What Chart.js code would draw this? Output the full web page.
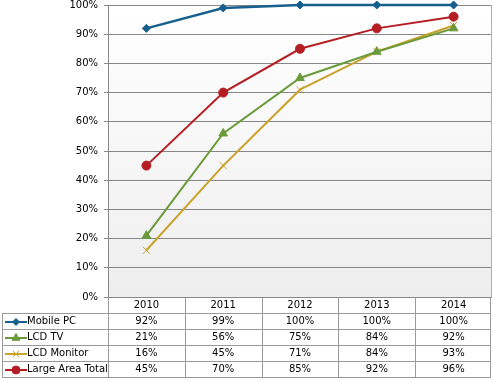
<!DOCTYPE html>
<html>
<head>
<meta charset="utf-8">
<script src="https://cdn.jsdelivr.net/npm/chart.js@4/dist/chart.umd.min.js"></script>
<style>
html,body{margin:0;padding:0;background:#fff;}
#wrap{width:493px;height:382px;position:relative;}
</style>
</head>
<body>
<div id="wrap"><canvas id="c" width="493" height="382"></canvas></div>
<script>
const categories = ['2010', '2011', '2012', '2013', '2014'];
const seriesNames = ['Mobile PC', 'LCD TV', 'LCD Monitor', 'Large Area Total'];
const mobilePC = [92, 99, 100, 100, 100];
const lcdTV = [21, 56, 75, 84, 92];
const lcdMonitor = [16, 45, 71, 84, 93];
const largeAreaTotal = [45, 70, 85, 92, 96];
const yTickValues = [0, 10, 20, 30, 40, 50, 60, 70, 80, 90, 100];

const FONT = '"DejaVu Sans", sans-serif';
const FSIZE = 10;
const GRID = '#878787';
const TABLE_LINE = '#9a9a9a';

const styles = [
  {color: '#17608e', pointStyle: 'rectRot', radius: 4, width: 2.5},
  {color: '#6a9a39', pointStyle: 'triangle', radius: 5, width: 2},
  {color: '#c9a22a', pointStyle: 'crossRot', radius: 5, width: 2},
  {color: '#b51d23', pointStyle: 'circle', radius: 4.5, width: 2}
];
const seriesData = [mobilePC, lcdTV, lcdMonitor, largeAreaTotal];

const datasets = seriesData.map((d, i) => ({
  label: seriesNames[i],
  data: d,
  borderColor: styles[i].color,
  backgroundColor: styles[i].color,
  pointBackgroundColor: styles[i].color,
  pointBorderColor: styles[i].color,
  pointStyle: styles[i].pointStyle,
  pointRadius: styles[i].radius,
  pointBorderWidth: 1,
  borderWidth: styles[i].width,
  tension: 0,
  fill: false,
  clip: 8,
  order: i
}));

const tablePlugin = {
  id: 'tablePlugin',
  beforeDraw(chart) {
    const {ctx, chartArea: a} = chart;
    const g = ctx.createLinearGradient(0, a.top, 0, a.bottom);
    g.addColorStop(0, '#ffffff');
    g.addColorStop(1, '#eeeeee');
    ctx.save();
    ctx.fillStyle = g;
    ctx.fillRect(a.left, a.top, a.right - a.left, a.bottom - a.top);
    ctx.restore();
  },
  afterDraw(chart) {
    const {ctx, chartArea: a} = chart;
    const n = categories.length;
    const band = (a.right - a.left) / n;
    const px = v => Math.round(v) + 0.5;
    ctx.save();
    ctx.strokeStyle = '#b0b0b0';
    ctx.lineWidth = 1;
    ctx.beginPath();
    ctx.moveTo(px(a.right) - 1, a.top);
    ctx.lineTo(px(a.right) - 1, a.bottom);
    ctx.stroke();

    const headerTop = a.bottom;
    const rowH = 16;
    const bodyTop = headerTop + 16;
    const tableLeft = 2;
    const tableRight = a.right - 1;
    ctx.strokeStyle = TABLE_LINE;
    ctx.beginPath();
    for (let r = 0; r <= seriesNames.length; r++) {
      const y = px(bodyTop + r * rowH);
      ctx.moveTo(tableLeft, y);
      ctx.lineTo(tableRight, y);
    }
    for (let k = 0; k <= n; k++) {
      let x = px(a.left + k * band);
      if (k === n) x = px(tableRight) - 1;
      ctx.moveTo(x, headerTop);
      ctx.lineTo(x, bodyTop + seriesNames.length * rowH);
    }
    ctx.moveTo(px(tableLeft), bodyTop);
    ctx.lineTo(px(tableLeft), bodyTop + seriesNames.length * rowH);
    ctx.stroke();

    ctx.fillStyle = '#000';
    ctx.font = FSIZE + 'px ' + FONT;
    ctx.textBaseline = 'middle';
    ctx.textAlign = 'center';
    const xs = chart.scales.x;
    categories.forEach((c, i) => {
      ctx.fillText(c, xs.getPixelForValue(i), headerTop + 8.5);
    });
    seriesData.forEach((d, r) => {
      const yc = bodyTop + r * rowH + 8.5;
      d.forEach((v, i) => {
        ctx.fillText(Math.round(v) + '%', xs.getPixelForValue(i), yc);
      });
    });
    ctx.textAlign = 'left';
    seriesNames.forEach((name, r) => {
      const yc = bodyTop + r * rowH + 8.5;
      const st = styles[r];
      ctx.strokeStyle = st.color;
      ctx.fillStyle = st.color;
      ctx.lineWidth = 2;
      ctx.beginPath();
      ctx.moveTo(5, Math.round(yc));
      ctx.lineTo(27, Math.round(yc));
      ctx.stroke();
      ctx.lineWidth = 1;
      Chart.helpers.drawPoint(ctx, {pointStyle: st.pointStyle, radius: st.radius - 0.5, rotation: 0, borderWidth: 1}, 16, Math.round(yc));
      ctx.fillStyle = '#000';
      ctx.fillText(name, 27, yc);
    });
    ctx.restore();
  }
};

new Chart(document.getElementById('c'), {
  type: 'line',
  data: {labels: categories, datasets},
  plugins: [tablePlugin],
  options: {
    responsive: false,
    animation: false,
    devicePixelRatio: 1,
    layout: {autoPadding: false, padding: {left: 0, right: 1, top: 5, bottom: 85}},
    plugins: {legend: {display: false}, tooltip: {enabled: false}},
    scales: {
      x: {
        type: 'category',
        display: false,
        offset: true,
        afterFit(scale) { scale.paddingLeft = 0; scale.paddingRight = 0; scale.paddingTop = 0; scale.paddingBottom = 0; }
      },
      y: {
        min: 0,
        max: 100,
        afterFit(scale) { scale.width = 108; scale.paddingTop = 0; scale.paddingBottom = 0; scale.paddingLeft = 0; scale.paddingRight = 0; },
        afterBuildTicks(scale) { scale.ticks = yTickValues.map(v => ({value: v})); },
        ticks: {
          padding: 6,
          color: '#000',
          font: {family: FONT, size: FSIZE},
          callback: v => v + '%'
        },
        grid: {color: GRID, lineWidth: 1, drawTicks: true, tickLength: 4, tickColor: GRID},
        border: {display: true, color: GRID, width: 1}
      }
    }
  }
});
</script>
</body>
</html>
